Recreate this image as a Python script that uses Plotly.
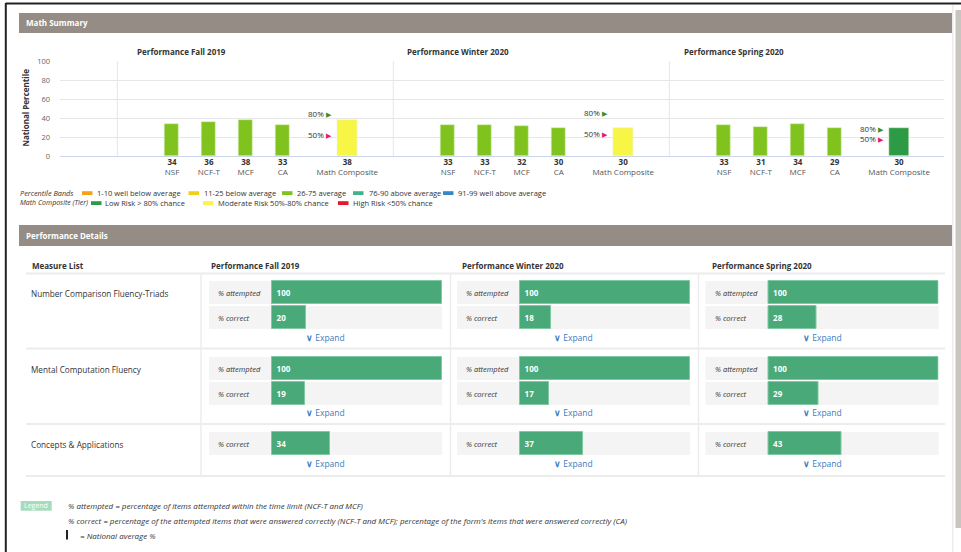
import plotly.graph_objects as go

W, H = 961, 552
def X(p): return p / W
def Y(p): return 1 - p / H

# ---------------- data ----------------
terms = ["Fall 2019", "Winter 2020", "Spring 2020"]
subtests = ["NSF", "NCF-T", "MCF", "CA"]
subtest_pct = [[34, 36, 38, 33], [33, 33, 32, 30], [33, 31, 34, 29]]
composite_label = "Math Composite"
composite_pct = [38, 30, 30]
composite_tier = ["Moderate", "Moderate", "Low"]
risk80 = [45, 46, 29]
risk50 = [23, 24, 18]
y_ticks = [0, 20, 40, 60, 80, 100]

band_labels = ["1-10 well below average", "11-25 below average", "26-75 average",
               "76-90 above average", "91-99 well above average"]
band_upper = [10, 25, 75, 90, 99]
band_colors = ["#f5a21b", "#f0d01a", "#80c21e", "#3fb48b", "#3a87c7"]
tier_labels = ["Low Risk &gt; 80% chance", "Moderate Risk 50%-80% chance", "High Risk &lt;50% chance"]
tier_keys = ["Low", "Moderate", "High"]
tier_colors = ["#2d9a45", "#f7f545", "#e5172b"]

measures = ["Number Comparison Fluency-Triads", "Mental Computation Fluency", "Concepts &amp; Applications"]
detail_rows = [["% attempted", "% correct"], ["% attempted", "% correct"], ["% correct"]]
pct_attempted = [[100, 100, 100], [100, 100, 100], [None, None, None]]
pct_correct = [[20, 18, 28], [19, 17, 29], [34, 37, 43]]

legend_lines = [
    "% attempted = percentage of items attempted within the time limit (NCF-T and MCF)",
    "% correct = percentage of the attempted items that were answered correctly (NCF-T and MCF); "
    "percentage of the form's items that were answered correctly (CA)",
    "= National average %",
]

def band_color(v):
    for up, c in zip(band_upper, band_colors):
        if v <= up:
            return c
    return band_colors[-1]

# ---------------- figure ----------------
fig = go.Figure()
shapes, annotations = [], []
layout = dict(width=W, height=H, margin=dict(l=0, r=0, t=0, b=0, pad=0, autoexpand=False),
              template="none",
              paper_bgcolor="white", plot_bgcolor="rgba(0,0,0,0)", showlegend=False,
              font=dict(family="Open Sans", color="#333"), bargap=0)

def rect(x0, y0, x1, y1, color, layer="below"):
    shapes.append(dict(type="rect", xref="paper", yref="paper", x0=X(x0), x1=X(x1),
                       y0=Y(y1), y1=Y(y0), fillcolor=color, line=dict(width=0), layer=layer))

def line(x0, y0, x1, y1, color, w=1):
    shapes.append(dict(type="line", xref="paper", yref="paper", x0=X(x0), x1=X(x1),
                       y0=Y(y0), y1=Y(y1), line=dict(color=color, width=w), layer="below"))

def text(x, y, t, size=8, color="#333", xanchor="left", **kw):
    annotations.append(dict(xref="paper", yref="paper", x=X(x), y=Y(y), text=t, showarrow=False,
                            xanchor=xanchor, yanchor="middle", font=dict(size=size, color=color), **kw))

# frame / page chrome
line(5.8, 3.5, 961, 3.5, "#222", 2)
line(5.8, 3, 5.8, 552, "#222", 2)
line(952.8, 5, 952.8, 552, "#e4e4e4", 1)
rect(955.5, 10, 961, 528, "#c8c4bf")

# section headers
rect(19, 13, 952, 33, "#958c85")
text(24, 23, "<b>Math Summary</b>", 8, "white")
rect(19, 225, 952, 246, "#958c85")
text(24, 235.5, "<b>Performance Details</b>", 8, "white")

# ---------------- top charts ----------------
fig.add_trace(go.Scatter(x=[], y=[], xaxis="x", yaxis="y", hoverinfo="skip"))
layout["xaxis"] = dict(domain=[X(60), X(944)], range=[0, 1], anchor="y", showticklabels=False,
                       showgrid=False, zeroline=False, showline=True, linecolor="#ccd6eb",
                       linewidth=1, ticks="", fixedrange=True, automargin=False)
layout["yaxis"] = dict(domain=[Y(156), Y(61)], range=[0, 100], anchor="x", tickvals=y_ticks,
                       showgrid=True, gridcolor="#e6e6e6", gridwidth=1, zeroline=False, showline=False,
                       ticks="", tickfont=dict(size=7.5, color="#666"), ticklabelstandoff=9,
                       fixedrange=True, automargin=False)
annotations.append(dict(xref="paper", yref="paper", x=X(25.5), y=Y(108), text="<b>National Percentile</b>",
                        textangle=-90, xanchor="center", yanchor="middle", showarrow=False,
                        font=dict(size=8, color="#333")))
for gx in [117.3, 393.3, 669.3]:
    line(gx, 61, gx, 156, "#e6e6e6", 1)

pitch = 36.9
for k in range(3):
    ax = 2 + k
    c0 = 172 + 276 * k
    layout[f"xaxis{ax}"] = dict(domain=[X(c0 - pitch / 2), X(c0 + 3.5 * pitch)], range=[-0.5, 3.5],
                                anchor="y", type="category", tickvals=subtests,
                                ticktext=[f"<b>{v}</b><br><span style='color:#555'>{n}</span>"
                                          for n, v in zip(subtests, subtest_pct[k])],
                                showgrid=False, zeroline=False, showline=False, ticks="", tickangle=0,
                                tickfont=dict(size=8, color="#333"), fixedrange=True, automargin=False)
    fig.add_trace(go.Bar(x=subtests, y=subtest_pct[k], xaxis=f"x{ax}", yaxis="y", width=0.38,
                         marker=dict(color=[band_color(v) for v in subtest_pct[k]],
                                     line=dict(color="#d8f0b8", width=0.6)),
                         hoverinfo="skip"))
    cx = 5 + k
    cc = 347.3 + 275.9 * k
    layout[f"xaxis{cx}"] = dict(domain=[X(cc - 20), X(cc + 20)], range=[-0.5, 0.5], anchor="y",
                                type="category", tickvals=[composite_label],
                                ticktext=[f"<b>{composite_pct[k]}</b><br><span style='color:#555'>{composite_label}</span>"],
                                showgrid=False, zeroline=False, showline=False, ticks="", tickangle=0,
                                tickfont=dict(size=8, color="#333"), fixedrange=True, automargin=False)
    fig.add_trace(go.Bar(x=[composite_label], y=[composite_pct[k]], xaxis=f"x{cx}", yaxis="y", width=0.5,
                         marker=dict(color=tier_colors[tier_keys.index(composite_tier[k])],
                                     line=dict(color="#e8f5d8", width=0.6)),
                         hoverinfo="skip"))
    for val, lab, col in [(risk80[k], "80%", "#3f8e1e"), (risk50[k], "50%", "#e8186e")]:
        annotations.append(dict(xref=f"x{cx}", yref="y", x=composite_label, y=val,
                                text=f"{lab} <span style='color:{col};font-size:7px'>▶</span>",
                                xanchor="right", yanchor="middle", xshift=-13.5, showarrow=False,
                                font=dict(size=8, color="#333")))
    text(181.7 + 276 * k, 51.5, f"<b>Performance {terms[k]}</b>", 8, "#333", xanchor="center")

# top legend
text(18, 193, "<i>Percentile Bands</i>", 7.3)
band_x = [(82, 95), (188.5, 202), (282, 295), (353, 367), (443, 456)]
for (sx, tx), lab, col in zip(band_x, band_labels, band_colors):
    rect(sx, 191.2, sx + 10.5, 195, col)
    text(tx, 193, lab, 7.5)
text(18, 203, "<i>Math Composite (Tier)</i>", 7)
tier_x = [(91, 103), (203, 216), (338, 350.6)]
for (sx, tx), lab, col in zip(tier_x, tier_labels, tier_colors):
    rect(sx, 201.2, sx + 10.5, 205, col)
    text(tx, 203, lab, 7.5)

# ---------------- performance details ----------------
text(30, 266, "<b>Measure List</b>", 8)
col_start = [209, 457, 705.5]
head_x = [209, 460, 710]
for t in range(3):
    text(head_x[t], 266, f"<b>Performance {terms[t]}</b>", 8)

line(26, 273.5, 945, 273.5, "#ececec", 2)
for yy in [348.5, 424, 476]:
    line(26, yy, 945, yy, "#ececec", 2)
for xx in [201, 450.5, 698.5]:
    line(xx, 273.5, xx, 476, "#ececec", 1.5)

cell_w = 233
zero_off = 63.4
row_top = [281, 357, 432]
row_pitch = 25
bar_h = 23
expand_y = [337, 412.5, 463.5]
xmin = -zero_off / (cell_w - zero_off) * 100

cell = 0
for m in range(3):
    rows = detail_rows[m]
    n = len(rows)
    text(29, row_top[m] + 12, measures[m], 8.2, "#333")
    for t in range(3):
        vals = [pct_attempted[m][t] if r == "% attempted" else pct_correct[m][t] for r in rows]
        ax_i, ay_i = 8 + cell, 2 + cell
        top = row_top[m] - (row_pitch - bar_h) / 2
        layout[f"xaxis{ax_i}"] = dict(domain=[X(col_start[t]), X(col_start[t] + cell_w)],
                                      range=[xmin, 100], anchor=f"y{ay_i}", visible=False,
                                      fixedrange=True, automargin=False)
        layout[f"yaxis{ay_i}"] = dict(domain=[Y(top + n * row_pitch), Y(top)], range=[n - 0.5, -0.5],
                                      anchor=f"x{ax_i}", type="category", visible=False,
                                      fixedrange=True, automargin=False)
        fig.add_trace(go.Bar(x=vals, y=rows, orientation="h", xaxis=f"x{ax_i}", yaxis=f"y{ay_i}",
                             width=bar_h / row_pitch,
                             marker=dict(color="#4aa978", line=dict(color="#7fcaa2", width=1)),
                             texttemplate="\u00a0<b>%{x}</b>", textposition="inside",
                             insidetextanchor="start", textfont=dict(color="white", size=8,
                                                                     family="Open Sans"),
                             hoverinfo="skip"))
        for i, r in enumerate(rows):
            y0 = row_top[m] + i * row_pitch
            rect(col_start[t], y0, col_start[t] + cell_w, y0 + bar_h, "#f4f4f4")
            annotations.append(dict(xref=f"x{ax_i} domain", yref=f"y{ay_i}", x=0, y=r, xshift=7,
                                    xanchor="left", yanchor="middle", text=f"<i>{r}</i>",
                                    showarrow=False, font=dict(size=7.5, color="#333")))
        text(col_start[t] + cell_w / 2, expand_y[m], "<b>∨</b> Expand", 8.5, "#3b7dc0", xanchor="center")
        cell += 1

# bottom legend
rect(20.7, 501, 51.7, 510.7, "#a6dbbb")
text(36.2, 505.9, "Legend", 7, "white", xanchor="center")
text(65.5, 505.5, f"<i>{legend_lines[0]}</i>", 8)
text(65.5, 520.5, f"<i>{legend_lines[1]}</i>", 8)
rect(66, 530, 68, 539.5, "#222")
text(77.5, 535, f"<i>{legend_lines[2]}</i>", 8)

layout["shapes"] = shapes
layout["annotations"] = annotations
fig.update_layout(**layout)

fig.write_html("out.html", config={"displayModeBar": False},
               post_script="document.body.style.margin='0';document.body.style.overflow='hidden';")
